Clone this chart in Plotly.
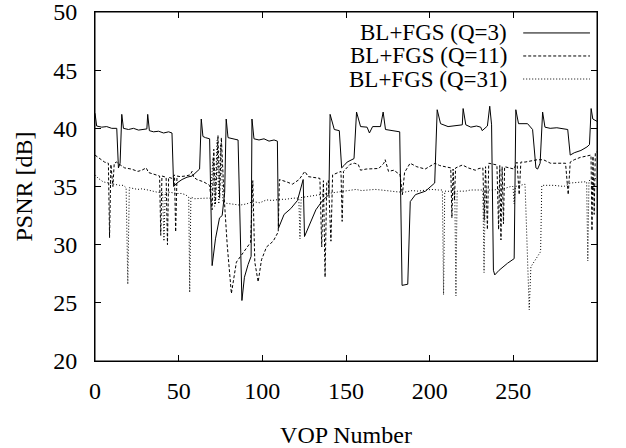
import plotly.graph_objects as go

# PSNR per VOP (breakpoints of each trace)
q3_points = [
    (0, 41.3), (1, 40.2), (4, 40.1), (7, 40.15), (10, 40.0), (13, 40.0), (14, 36.6), (15, 37.0),
    (16, 41.2), (17, 40.0), (20, 39.9), (23, 40.0), (26, 39.85), (29, 39.9), (31, 39.95), (31.5, 41.2),
    (32.5, 39.8), (35, 39.7), (38, 39.75), (41, 39.6), (44, 39.7), (46, 39.6), (47, 35.0), (49, 35.3),
    (52, 35.6), (55, 35.8), (58, 35.9), (61, 36.3), (62.5, 36.5), (63.5, 40.8), (64.5, 39.3), (66, 39.2),
    (68.5, 39.1), (70, 28.2), (72, 30.5), (74.4, 32.3), (76, 32.5), (77.5, 34.5), (78.4, 40.8), (79.5, 39.2),
    (82, 39.1), (85.5, 39.0), (87.8, 25.2), (89.3, 27.2), (91.5, 28.3), (93.3, 29.0), (93.8, 40.8), (95, 39.1),
    (98, 39.0), (101, 39.1), (104, 38.9), (107, 39.0), (109, 38.9), (109.6, 31.4), (113, 32.6), (117, 33.1),
    (121, 33.8), (123.6, 35.3), (124.4, 35.6), (125.2, 30.7), (128, 31.7), (132, 33.0), (136, 33.8), (139.8, 34.3),
    (140.5, 41.2), (143, 39.9), (146, 39.8), (147.4, 36.6), (148.8, 36.8), (150.7, 37.1), (154.8, 37.4), (156.3, 41.4),
    (158.7, 40.15), (162.6, 40.1), (164, 39.6), (165.9, 40.15), (170.6, 40.15), (172.2, 41.4), (173.6, 39.9), (178, 39.8),
    (182.1, 39.7), (183.5, 26.5), (186.9, 26.6), (188.4, 33.7), (191.5, 34.3), (197.5, 34.6), (203, 35.3), (204.5, 41.6),
    (206.5, 40.4), (211, 40.15), (215, 40.2), (219.5, 40.3), (220, 41.7), (221.6, 40.3), (224.6, 40.1), (228, 40.2),
    (230.5, 40.1), (231.4, 39.8), (234.5, 40.2), (235.9, 41.9), (237, 40.3), (238.1, 27.8), (238.9, 27.4), (241.5, 27.8),
    (246.5, 28.4), (250.5, 28.8), (251.5, 41.6), (253.1, 40.4), (258.5, 40.4), (261.5, 39.9), (263.5, 36.6), (264.5, 36.5),
    (266, 37.0), (267.5, 41.4), (268.9, 40.1), (272, 40.0), (276, 40.05), (280, 39.95), (282.5, 39.9), (284, 37.7),
    (286.4, 37.9), (290.4, 38.1), (294, 38.4), (295.5, 38.6), (296.5, 41.7), (297.5, 40.8), (299, 40.7), (300, 40.6),
]

q11_points = [
    (0, 37.7), (2, 37.5), (5.7, 37.1), (8, 37.0), (8.7, 30.6), (9.5, 36.9), (10.7, 35.0), (11.5, 37.0),
    (12.9, 37.1), (14.7, 36.9), (17.7, 36.6), (21.7, 36.5), (25.6, 36.3), (28, 36.4), (30.6, 36.6), (32, 36.2),
    (34.6, 36.1), (38.6, 35.9), (39.3, 30.8), (40, 35.9), (42.5, 35.8), (43.3, 30.0), (44, 35.8), (46, 35.7),
    (47.5, 36.0), (48.2, 31.1), (49, 35.9), (50.9, 35.85), (54, 35.9), (56.9, 36.0), (58, 36.3), (59, 35.8),
    (60.9, 35.6), (64.9, 35.4), (68.5, 35.1), (70, 33.0), (71, 38.2), (72, 33.5), (73.5, 39.4), (74.5, 34.0),
    (75.5, 39.2), (77, 34.5), (79, 30.0), (81.5, 25.8), (84.5, 28.5), (87.5, 29.1), (90, 29.6), (93, 30.2),
    (94.3, 35.5), (95.5, 28.5), (97.5, 26.8), (99.5, 28.7), (102.5, 29.8), (106.5, 30.3), (109.5, 31.1), (110.2, 35.6),
    (114.5, 35.4), (118, 35.2), (122, 35.6), (125.4, 36.3), (127.4, 35.85), (131, 35.8), (134.4, 35.7), (135.5, 29.8),
    (136.5, 35.5), (137.5, 27.2), (138.5, 35.4), (139.5, 35.5), (141, 30.3), (142, 36.0), (143.4, 36.1), (147, 36.3),
    (147.7, 32.0), (148.5, 36.3), (152.4, 36.9), (155, 37.0), (157.3, 36.9), (158.7, 36.4), (162, 36.5), (165.6, 36.55),
    (169.6, 36.55), (172.6, 37.0), (173.4, 37.3), (175.4, 36.3), (178.6, 36.4), (182.3, 36.0), (183.7, 34.3), (185, 36.2),
    (188.3, 37.0), (192.3, 36.7), (197.3, 36.5), (203.3, 37.0), (206, 36.8), (209.3, 36.7), (212.6, 36.6), (213.3, 32.3),
    (214, 36.5), (214.8, 33.8), (215.5, 36.6), (219.6, 36.85), (223, 36.6), (227.3, 36.4), (229.5, 36.55), (231.8, 36.6),
    (232.6, 32.1), (233.4, 36.7), (234.5, 31.3), (235.3, 37.0), (240.2, 36.85), (241.2, 31.3), (241.9, 36.8), (242.6, 30.4),
    (243.3, 36.7), (244.1, 31.8), (244.8, 36.7), (250.4, 36.5), (252.2, 37.1), (253.5, 34.3), (254.5, 37.1), (257, 37.1),
    (264.3, 37.3), (268, 37.3), (272.2, 37.0), (281.2, 37.0), (282.8, 34.3), (284, 37.1), (286.4, 37.3), (290, 37.5),
    (294.4, 37.6), (296.4, 37.7), (297, 31.2), (297.6, 37.6), (298.3, 32.6), (299, 37.9), (300, 38.0),
]

q31_points = [
    (0, 36.0), (2, 35.7), (4.9, 35.4), (8, 35.3), (10.7, 35.2), (14.7, 35.1), (16.9, 35.1), (18.6, 34.9),
    (19.6, 26.6), (20.5, 34.9), (25.5, 34.75), (28, 34.8), (31.6, 34.7), (35, 34.6), (37.5, 34.5), (40.4, 34.5),
    (41.2, 30.3), (42, 34.5), (45, 34.5), (48.6, 34.4), (51.6, 34.4), (54, 34.3), (56, 34.1), (56.6, 25.9),
    (57.3, 34.1), (59.5, 33.95), (63, 34.0), (66.6, 34.0), (69, 34.0), (70.5, 37.5), (71.5, 33.3), (73, 39.0),
    (74, 33.5), (75, 38.6), (76.5, 33.6), (78.5, 33.55), (82, 33.5), (86.5, 33.4), (90.5, 33.5), (94.5, 33.7),
    (98.5, 33.6), (102.5, 33.85), (106, 33.8), (110.5, 33.9), (114, 33.9), (118.5, 34.0), (121.8, 34.0), (122.5, 30.5),
    (123.2, 34.05), (126.5, 34.1), (130, 34.2), (134.4, 34.3), (139, 34.4), (144.4, 34.55), (148, 34.6), (152.4, 34.7),
    (156, 34.75), (159.3, 34.65), (163, 34.7), (167.4, 34.75), (171, 34.7), (175.6, 34.6), (180, 34.55), (184.6, 34.5),
    (189.6, 34.65), (193, 34.6), (197.3, 34.7), (201, 34.75), (205.3, 34.7), (207.6, 34.7), (208.3, 25.7), (209, 34.6),
    (210.7, 34.6), (213, 34.55), (215, 34.6), (215.7, 25.6), (216.4, 34.6), (221.3, 34.6), (224.4, 34.7), (227.3, 34.7),
    (230.3, 34.75), (231.8, 34.7), (232.5, 27.6), (233.2, 34.7), (238, 34.7), (244, 34.8), (248.5, 35.0), (249.8, 35.0),
    (250.5, 33.5), (251.2, 35.0), (257, 35.2), (258.3, 30.0), (259.5, 24.4), (260.5, 28.1), (264.5, 29.0), (266.3, 29.4),
    (267, 35.1), (274.2, 35.1), (280.2, 35.0), (284.2, 35.3), (292.2, 35.4), (293.8, 35.4), (294.5, 28.6), (295.2, 35.5),
    (299.3, 35.7), (300, 35.8),
]

labels = ["BL+FGS (Q=3)", "BL+FGS (Q=11)", "BL+FGS (Q=31)"]
dashes = ["solid", "3px,2px", "1px,2px"]
x_ticks = [0, 50, 100, 150, 200, 250]
y_ticks = [20, 25, 30, 35, 40, 45, 50]

FONT = "Liberation Serif, Times New Roman, serif"
FS = 24

fig = go.Figure()
for pts, name, dash in zip([q3_points, q11_points, q31_points], labels, dashes):
    xs = [p[0] for p in pts]
    ys = [p[1] for p in pts]
    fig.add_trace(go.Scatter(x=xs, y=ys, mode="lines", name=name,
                             line=dict(color="black", width=1, dash=dash),
                             showlegend=False))

# gnuplot-style key: right-aligned text with the line sample to its right
key_rows = [0.940, 0.874, 0.808]
for name, dash, ky in zip(labels, dashes, key_rows):
    fig.add_annotation(x=0.823, y=ky, xref="paper", yref="paper", text=name,
                       showarrow=False, xanchor="right", yanchor="middle", borderpad=0,
                       font=dict(family=FONT, size=23, color="black"))
    fig.add_shape(type="line", xref="paper", yref="paper",
                  x0=0.853, x1=0.986, y0=ky, y1=ky,
                  line=dict(color="black", width=1, dash=dash))

# plot frame
fig.add_shape(type="rect", xref="paper", yref="paper", x0=0, x1=1, y0=0, y1=1,
              line=dict(color="black", width=1), layer="above")

axis_style = dict(showline=True, linecolor="black", linewidth=1, mirror="ticks",
                  ticks="inside", ticklen=6, tickcolor="black", showgrid=False,
                  zeroline=False, automargin=False, ticklabeloverflow="allow",
                  tickfont=dict(family=FONT, size=FS, color="black"))

fig.update_xaxes(range=[0, 300], tickvals=x_ticks, ticklabelstandoff=8,
                 title=dict(text="VOP Number", font=dict(family=FONT, size=FS, color="black"),
                            standoff=23),
                 **axis_style)
fig.update_yaxes(range=[20, 50], tickvals=y_ticks, ticklabelstandoff=12,
                 title=dict(text="PSNR [dB]", font=dict(family=FONT, size=FS, color="black"),
                            standoff=13),
                 **axis_style)

fig.update_layout(width=626, height=448, margin=dict(l=95, r=29, t=12, b=87),
                  plot_bgcolor="white", paper_bgcolor="white")

fig.write_html("out.html", config={"displayModeBar": False},
               post_script="document.body.style.margin = '0';")
